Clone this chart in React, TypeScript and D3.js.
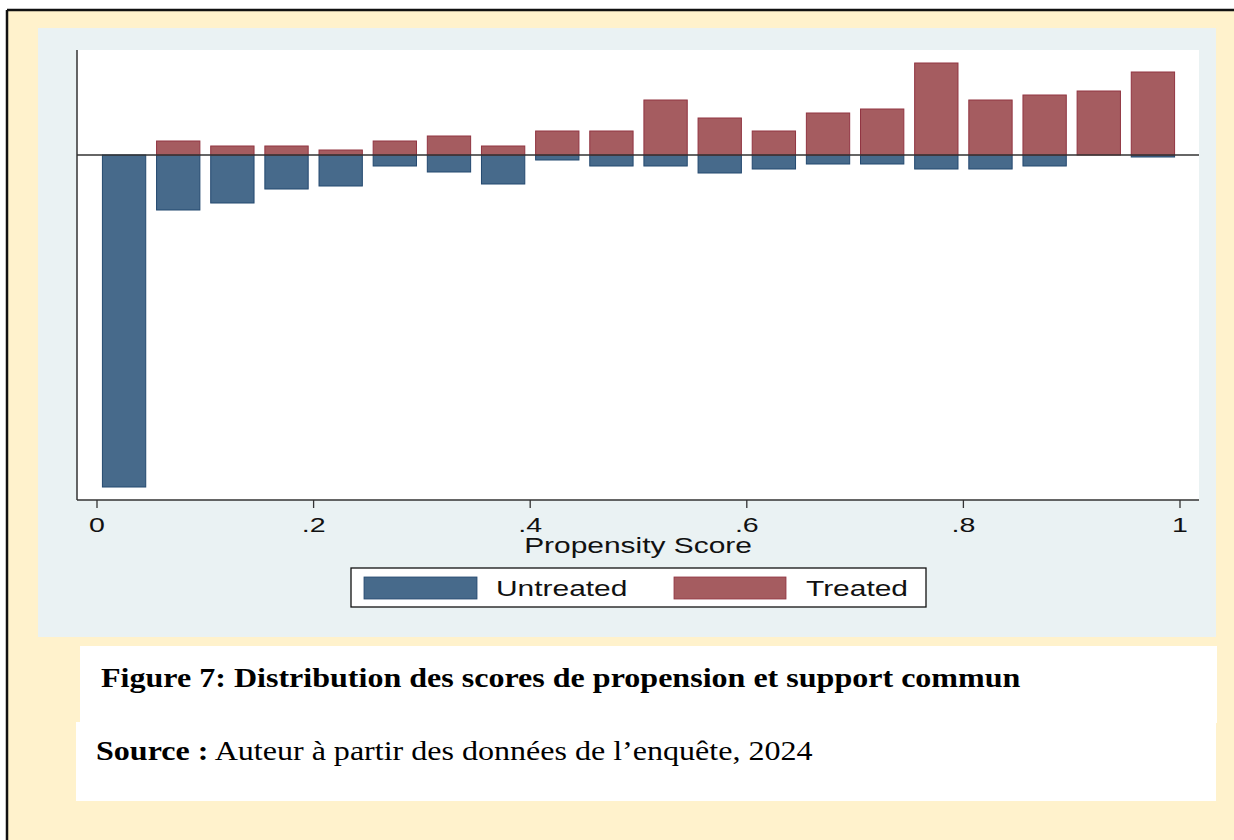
import React from 'react';
import * as d3 from 'd3';

// propensity score bins (width .05), heights
const binStarts = d3.range(0, 20).map(i => i * 0.05);
const untreated = [3.32, 0.55, 0.48, 0.34, 0.31, 0.11, 0.17, 0.29, 0.05, 0.11, 0.11, 0.18, 0.14, 0.09, 0.09, 0.14, 0.14, 0.11, 0, 0.02];
const treated = [0, 0.14, 0.09, 0.09, 0.05, 0.14, 0.19, 0.09, 0.24, 0.24, 0.55, 0.37, 0.24, 0.42, 0.46, 0.92, 0.55, 0.6, 0.64, 0.83];
const xTicks = [0, 0.2, 0.4, 0.6, 0.8, 1];
const legendLabels = ['Untreated', 'Treated'];

const BLUE = '#476a8b';
const BLUE_EDGE = '#23486f';
const RED = '#a55c60';
const RED_EDGE = '#913441';

const sans = '"Liberation Sans", Arial, sans-serif';
const serif = '"Liberation Serif", "Times New Roman", serif';

// the pasted graph is stretched sideways
const SX = 1.36;
const CAP_SX = 1.145;

export default function App() {
  const x = d3.scaleLinear().domain([0, 1]).range([97, 1180]);
  const y = d3.scaleLinear().domain([-3.45, 1.05]).range([500, 50]);
  const barW = x(0.04) - x(0);
  const fmt = (d: number) => (d === 0 ? '0' : d === 1 ? '1' : d3.format('.1f')(d).replace(/^0/, ''));

  return (
    <svg width={1234} height={840} style={{ position: 'absolute', left: 0, top: 0 }}>
      <rect x={0} y={0} width={1234} height={840} fill="#ffffff" />
      {/* page shading + border (top and left only visible) */}
      <rect x={7} y={10} width={1227} height={830} fill="#fff2cc" />
      <line x1={7} x2={1234} y1={10} y2={10} stroke="#111" strokeWidth={2.5} />
      <line x1={7} x2={7} y1={10} y2={840} stroke="#111" strokeWidth={2.5} />
      {/* stata graph region */}
      <rect x={38} y={28} width={1178} height={609} fill="#eaf2f3" />
      <rect x={77} y={50} width={1122} height={450} fill="#ffffff" />

      {/* bars */}
      {binStarts.map((b, i) => {
        const cx = x(b + 0.025);
        return (
          <g key={i}>
            {untreated[i] > 0 && (
              <rect x={cx - barW / 2} y={y(0)} width={barW} height={y(-untreated[i]) - y(0)}
                fill={BLUE} stroke={BLUE_EDGE} strokeWidth={1} />
            )}
            {treated[i] > 0 && (
              <rect x={cx - barW / 2} y={y(treated[i])} width={barW} height={y(0) - y(treated[i])}
                fill={RED} stroke={RED_EDGE} strokeWidth={1} />
            )}
          </g>
        );
      })}

      {/* zero line */}
      <line x1={77} x2={1199} y1={y(0)} y2={y(0)} stroke="#333" strokeWidth={1.3} />

      {/* axes */}
      <line x1={77} x2={77} y1={50} y2={500} stroke="#333" strokeWidth={1.5} />
      <line x1={77} x2={1199} y1={500} y2={500} stroke="#333" strokeWidth={1.5} />
      {xTicks.map(t => (
        <g key={t}>
          <line x1={x(t)} x2={x(t)} y1={500} y2={508} stroke="#333" strokeWidth={1.3} />
          <text transform={`translate(${x(t)},532) scale(${SX},1)`} textAnchor="middle"
            fontFamily={sans} fontSize={21} fill="#111">{fmt(t)}</text>
        </g>
      ))}
      <text transform={`translate(638,553) scale(${SX},1)`} textAnchor="middle"
        fontFamily={sans} fontSize={22} fill="#111">Propensity Score</text>

      {/* legend */}
      <rect x={351} y={568} width={575} height={39} fill="#ffffff" stroke="#111" strokeWidth={1.3} />
      <rect x={364} y={577} width={113} height={22} fill={BLUE} stroke={BLUE_EDGE} strokeWidth={0.8} />
      <text transform={`translate(496,596) scale(${SX},1)`} fontFamily={sans} fontSize={22} fill="#111">{legendLabels[0]}</text>
      <rect x={674} y={577} width={112} height={22} fill={RED} stroke={RED_EDGE} strokeWidth={0.8} />
      <text transform={`translate(806,596) scale(${SX},1)`} fontFamily={sans} fontSize={22} fill="#111">{legendLabels[1]}</text>

      {/* caption */}
      <rect x={80} y={646} width={1137} height={77} fill="#ffffff" />
      <rect x={76} y={722} width={1140} height={79} fill="#ffffff" />
      <text transform={`translate(101,687) scale(${CAP_SX},1)`} fontFamily={serif} fontSize={28} fontWeight="bold" fill="#000">
        Figure 7: Distribution des scores de propension et support commun
      </text>
      <text transform={`translate(96,760) scale(${CAP_SX},1)`} fontFamily={serif} fontSize={28} fill="#000">
        <tspan fontWeight="bold">Source :</tspan>
        <tspan> Auteur à partir des données de l’enquête, 2024</tspan>
      </text>
    </svg>
  );
}
